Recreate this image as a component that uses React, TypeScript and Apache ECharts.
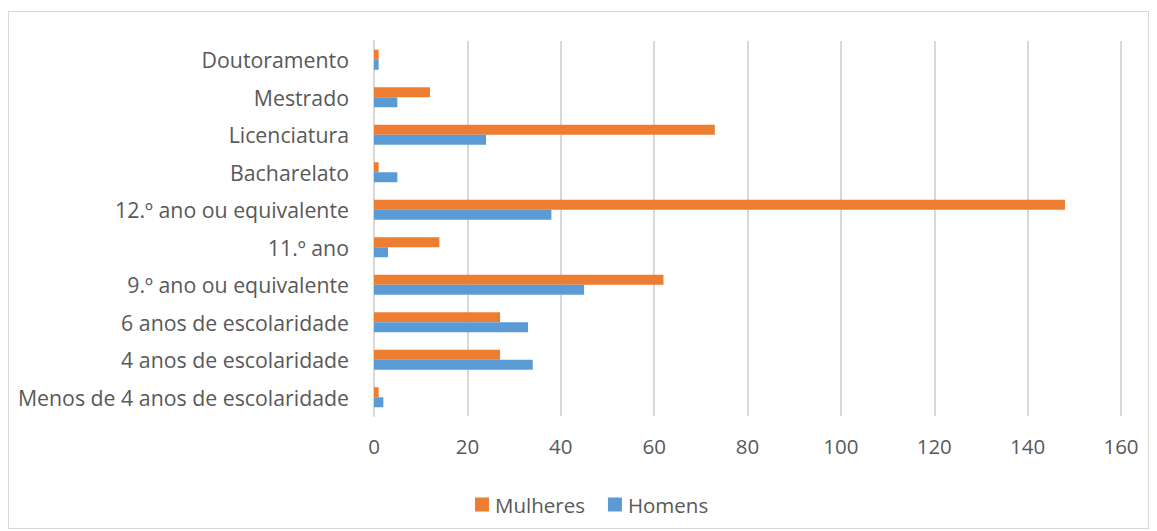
import React, { useEffect, useRef } from "react";
import * as echarts from "echarts";

const categories = [
  "Menos de 4 anos de escolaridade",
  "4 anos de escolaridade",
  "6 anos de escolaridade",
  "9.º ano ou equivalente",
  "11.º ano",
  "12.º ano ou equivalente",
  "Bacharelato",
  "Licenciatura",
  "Mestrado",
  "Doutoramento",
];
const mulheres = [1, 27, 27, 62, 14, 148, 1, 73, 12, 1];
const homens = [2, 34, 33, 45, 3, 38, 5, 24, 5, 1];
const xTicks = { min: 0, max: 160, interval: 20 };

const FONT = "'Open Sans', 'Noto Sans', sans-serif";
const TEXT = "#595959";

export default function App() {
  const ref = useRef<HTMLDivElement>(null);
  useEffect(() => {
    if (!ref.current) return;
    const chart = echarts.init(ref.current, undefined, { renderer: "svg" });
    chart.setOption({
      animation: false,
      grid: { left: 365, right: 27, top: 29, bottom: 112 },
      legend: {
        data: ["Mulheres", "Homens"],
        top: 477,
        left: 461,
        itemWidth: 14,
        itemHeight: 14,
        itemGap: 23,
        icon: "rect",
        textStyle: { color: TEXT, fontSize: 20.5, fontFamily: FONT, padding: [0, 0, 0, 1] },
      },
      xAxis: {
        type: "value",
        min: xTicks.min,
        max: xTicks.max,
        interval: xTicks.interval,
        axisLine: { show: false },
        axisTick: { show: false },
        splitLine: { lineStyle: { color: "#d9d9d9", width: 2 } },
        axisLabel: { color: TEXT, fontSize: 20.5, fontFamily: FONT, margin: 19 },
      },
      yAxis: {
        type: "category",
        data: categories,
        axisLine: { lineStyle: { color: "#d9d9d9", width: 2 } },
        axisTick: { show: false },
        axisLabel: { color: TEXT, fontSize: 21.3, fontFamily: FONT, margin: 25 },
      },
      series: [
        {
          name: "Mulheres",
          type: "bar",
          data: mulheres,
          barWidth: 10,
          barGap: "0%",
          itemStyle: { color: "#ED7D31" },
        },
        {
          name: "Homens",
          type: "bar",
          data: homens,
          barWidth: 10,
          barGap: "0%",
          itemStyle: { color: "#5B9BD5" },
        },
      ],
    });
    return () => chart.dispose();
  }, []);
  return (
    <div
      style={{
        marginTop: 3,
        width: 1141,
        height: 518,
        border: "1px solid #d9d9d9",
        boxSizing: "border-box",
        background: "#fff",
      }}
    >
      <div ref={ref} style={{ width: "100%", height: "100%" }} />
    </div>
  );
}
